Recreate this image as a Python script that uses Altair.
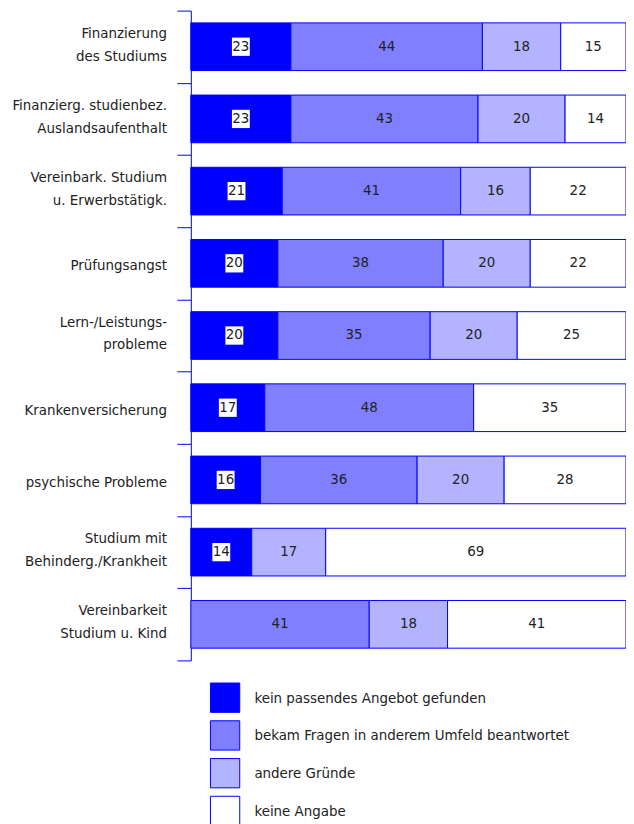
import altair as alt
import pandas as pd

categories = [
    "Finanzierung|des Studiums",
    "Finanzierg. studienbez.|Auslandsaufenthalt",
    "Vereinbark. Studium|u. Erwerbstätigk.",
    "Prüfungsangst",
    "Lern-/Leistungs-|probleme",
    "Krankenversicherung",
    "psychische Probleme",
    "Studium mit|Behinderg./Krankheit",
    "Vereinbarkeit|Studium u. Kind",
]
series = [
    "kein passendes Angebot gefunden",
    "bekam Fragen in anderem Umfeld beantwortet",
    "andere Gründe",
    "keine Angabe",
]
kein = [23, 23, 21, 20, 20, 17, 16, 14, 0]
bekam = [44, 43, 41, 38, 35, 48, 36, 0, 41]
andere = [18, 20, 16, 20, 20, 0, 20, 17, 18]
keine = [15, 14, 22, 22, 25, 35, 28, 69, 41]
colors = ["#0000ff", "#8080ff", "#b3b3ff", "#ffffff"]

rows = []
for i, c in enumerate(categories):
    start = 0
    for j, (s, vals) in enumerate(zip(series, [kein, bekam, andere, keine])):
        v = vals[i]
        if v > 0:
            rows.append(dict(cat=c, series=s, order=j, value=v,
                             x0=start, x1=start + v, mid=start + v / 2))
        start += v
df = pd.DataFrame(rows)
catdf = pd.DataFrame({"cat": categories})

FONT = "DejaVu Sans Condensed, Roboto, sans-serif"
FS = 15
TXT = "#222222"

yscale = alt.Scale(paddingInner=0, paddingOuter=0)
y = alt.Y("cat:N", sort=categories, title=None, scale=yscale,
          axis=alt.Axis(labels=False, tickBand="extent",
                        tickSize=14, domainColor="#0000ff",
                        tickColor="#0000ff", domainWidth=1,
                        tickWidth=1, grid=False))
y_plain = alt.Y("cat:N", sort=categories, title=None, scale=yscale)
xscale = alt.Scale(domain=[0, 100], nice=False, zero=True)

bars = alt.Chart(df).mark_bar(stroke="#0000ff", strokeWidth=1, opacity=1, size=48).encode(
    x=alt.X("x0:Q", scale=xscale, axis=None),
    x2="x1:Q",
    y=y,
    color=alt.Color("series:N", scale=alt.Scale(domain=series, range=colors),
                    legend=alt.Legend(orient="none", legendX=19, legendY=676,
                                      direction="vertical", title=None,
                                      symbolType="square", symbolSize=870,
                                      symbolStrokeColor="#0000ff", symbolStrokeWidth=1,
                                      symbolOpacity=1, labelFont=FONT, labelFontSize=FS,
                                      labelColor=TXT, labelOffset=14, rowPadding=3,
                                      padding=0, labelLimit=400)),
)

boxes = alt.Chart(df).transform_filter("datum.order == 0").mark_point(
    shape="M-0.9,-0.92H0.9V0.92H-0.9Z", filled=True, color="white",
    opacity=1, size=400).encode(
    x=alt.X("mid:Q", scale=xscale, axis=None),
    y=y_plain,
)

text = alt.Chart(df).mark_text(font=FONT, fontSize=FS, color=TXT, dy=-1).encode(
    x=alt.X("mid:Q", scale=xscale, axis=None),
    y=y_plain,
    text="value:Q",
)

labels_two = alt.Chart(catdf).transform_filter(
    "indexof(datum.cat, '|') >= 0"
).transform_calculate(lines="split(datum.cat, '|')").mark_text(
    align="right", baseline="middle", dy=-14, lineHeight=23,
    font=FONT, fontSize=FS, color=TXT
).encode(x=alt.value(-24), y=y_plain, text="lines:N")

labels_one = alt.Chart(catdf).transform_filter(
    "indexof(datum.cat, '|') < 0"
).mark_text(
    align="right", baseline="middle", dy=2,
    font=FONT, fontSize=FS, color=TXT
).encode(x=alt.value(-24), y=y_plain, text="cat:N")

chart = alt.layer(bars, boxes, text, labels_two, labels_one).properties(
    width=438, height=654,
    autosize=alt.AutoSizeParams(type="none"),
    padding={"left": 184, "top": 0, "right": 0, "bottom": 162},
).configure_view(stroke=None)

chart.save("out.html", embed_options={"renderer": "svg", "actions": False})
